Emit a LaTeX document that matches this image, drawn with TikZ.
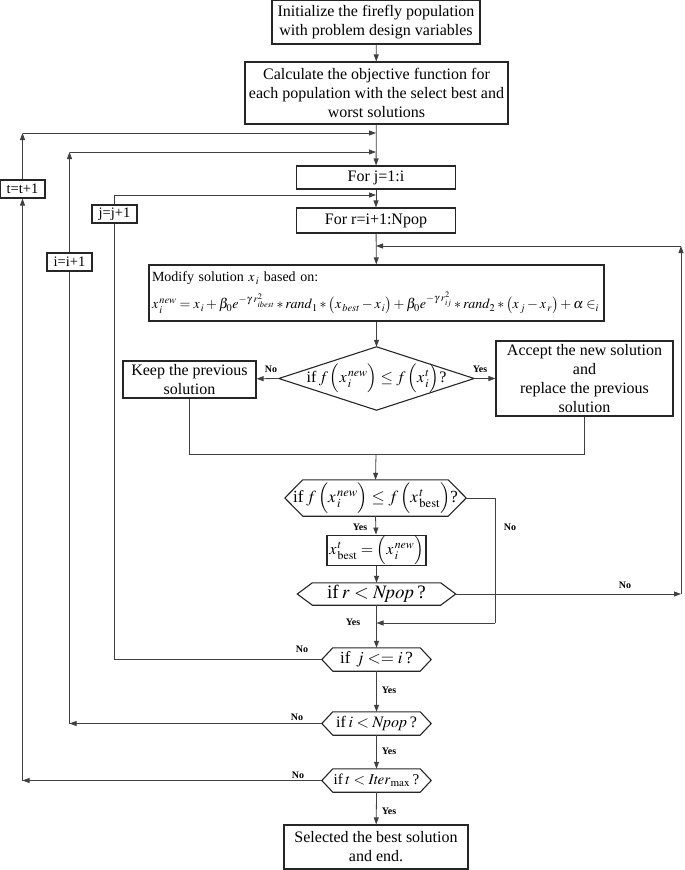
\documentclass[tikz,border=0pt]{standalone}
\usepackage{mathptmx}
\usepackage{fontspec}
\setmainfont{Liberation Serif}
\usetikzlibrary{arrows.meta}
\newcommand{\hexoutline}[2]{\draw[hexl] (#1.west) -- ([xshift=#2]#1.north west) -- ([xshift=-#2]#1.north east) -- (#1.east) -- ([xshift=-#2]#1.south east) -- ([xshift=#2]#1.south west) -- cycle;}
\newcommand{\lowsub}[1]{\lower2pt\hbox{$\scriptscriptstyle #1$}}
\begin{document}
\begin{tikzpicture}[x=1pt,y=-1pt,
  line/.style={draw=black!75, line width=0.8pt},
  arr/.style={line, -{Triangle[length=7pt,width=5pt]}},
  box/.style={draw=black!85, line width=1.1pt, inner sep=1pt, align=center, font=\fontsize{16}{19}\selectfont},
  small/.style={box, font=\fontsize{14.5}{16}\selectfont},
  ghost/.style={inner sep=0pt, align=center, font=\fontsize{16}{19}\selectfont},
  hexl/.style={draw=black!85, line width=1.1pt},
  lab/.style={font=\bfseries\fontsize{10}{12}\selectfont, inner sep=0pt}]
\useasboundingbox (0,0) rectangle (685,870);
% main column
\node[box, minimum width=208pt, minimum height=44pt] (b1) at (376,22) {Initialize the firefly population\\with problem design variables};
\node[box, minimum width=263pt, minimum height=62pt] (b2) at (376.5,93) {Calculate the objective function for\\each population with the select best and\\worst solutions};
\node[box, minimum width=159pt, minimum height=23pt] (fj) at (376,177.5) {For j=1:i};
\node[box, minimum width=159pt, minimum height=25pt] (fr) at (376,220.5) {For r=i+1:Npop};
\node[box, minimum width=455pt, minimum height=56pt, text width=449pt, align=left, font=\fontsize{14}{27}\selectfont] (mod) at (376.5,293) {Modify solution $x_{\,i}$ based on:\\
$x_{\,i}^{\,\mathit{new}}=x_{\,i}+\beta_0e^{-\gamma\mkern3mu r^{2}_{\lowsub{\mathit{ibest}}}}*\mathit{rand}_1*\bigl(x_{\,\mathit{best}}-x_{\,i}\bigr)+\beta_0e^{-\gamma\mkern3mu r^{2}_{\lowsub{ij}}}*\mathit{rand}_2*\bigl(x_{\,j}-x_{\,r}\bigr)+\alpha\in_i$};
\node[ghost, minimum width=195pt, minimum height=63pt] (dia) at (376.5,378.5) {if\,$f\,\Bigl(x_{\,i}^{\,\mathit{new}}\Bigr)\le f\,\Bigl(x_{\,i}^{\,t}\Bigr)$?};
\draw[hexl] (dia.west) -- (dia.north) -- (dia.east) -- (dia.south) -- cycle;
\node[box, minimum width=133pt, minimum height=37pt] (keep) at (189.5,379.5) {Keep the previous\\solution};
\node[box, minimum width=177pt, minimum height=75pt] (acc) at (584.5,378.5) {Accept the new solution\\and\\replace the previous\\solution};
\coordinate (keepd) at (189.5,454);
\coordinate (accd) at (584.5,454);
\coordinate (merge) at (376,454);
\node[ghost, minimum width=181pt, minimum height=36pt, font=\fontsize{17}{19}\selectfont] (h1) at (375.5,498) {if\,$f\,\Bigl(x_{\,i}^{\,\mathit{new}}\Bigr)\le f\,\Bigl(x^{\,t}_{\,\mathrm{best}}\Bigr)$?};
\hexoutline{h1}{18}
\node[box, minimum width=99pt, minimum height=27pt, font=\fontsize{16}{19}\selectfont] (xb) at (376.5,550.5) {$x^{\,t}_{\,\mathrm{best}}=\Bigl(x_{\,i}^{\,\mathit{new}}\Bigr)$};
\node[ghost, minimum width=158pt, minimum height=22pt, font=\fontsize{19}{21}\selectfont] (h2) at (376.5,594) {if\,$r<\mathit{Npop}$\,?};
\hexoutline{h2}{15}
\node[ghost, minimum width=109pt, minimum height=23pt, font=\fontsize{17}{19}\selectfont] (h3) at (376.5,659.5) {if\,\,$j<=i$\,?};
\hexoutline{h3}{11}
\node[ghost, minimum width=109pt, minimum height=23pt, font=\fontsize{16}{19}\selectfont] (h4) at (376.5,723.5) {if\,$i<\mathit{Npop}$\,?};
\hexoutline{h4}{11}
\node[ghost, minimum width=109pt, minimum height=23pt, font=\fontsize{15}{19}\selectfont] (h5) at (376.5,780.5) {if\,$t<\mathit{Iter}_{\max}$\,?};
\hexoutline{h5}{11}
\node[box, minimum width=184pt, minimum height=44pt] (fin) at (376,847) {Selected the best solution\\and end.};
% loop boxes
\node[small, minimum width=45pt, minimum height=18pt] (tb) at (22.5,189) {t=t+1};
\node[small, minimum width=45pt, minimum height=18pt] (ib) at (69.5,262) {i=i+1};
\node[small, minimum width=45pt, minimum height=18pt] (jb) at (114.5,214) {j=j+1};
\coordinate (tt) at (376,133);
\coordinate (it) at (376,152);
\coordinate (jt) at (376,195);
\coordinate (rt) at (376,246);
\coordinate (tL) at (22.5,780.5);
\coordinate (tU) at (22.5,133);
\coordinate (iL) at (69.5,723.5);
\coordinate (iU) at (69.5,152);
\coordinate (jL) at (114.5,659.5);
\coordinate (jU) at (114.5,195);
\coordinate (rR) at (681,594);
\coordinate (rU) at (681,246);
\coordinate (nR) at (495,498);
\coordinate (nD) at (495,623);
\coordinate (nL) at (376.5,623);
% main arrows
\draw[arr] (b1) -- (b2);
\draw[arr] (b2) -- (fj);
\draw[arr] (fj) -- (fr);
\draw[arr] (fr) -- (mod);
\draw[arr] (mod) -- (dia.north);
\draw[arr] (dia.west) -- (keep);
\draw[arr] (dia.east) -- (acc);
\draw[line] (keep) -- (keepd) -- (accd) -- (acc);
\draw[arr] (merge) -- (h1.north);
\draw[arr] (h1.south) -- (xb);
\draw[arr] (xb) -- (h2.north);
\draw[arr] (h2.south) -- (h3.north);
\draw[arr] (h3.south) -- (h4.north);
\draw[arr] (h4.south) -- (h5.north);
\draw[arr] (h5.south) -- (fin);
% h1 no branch
\draw[line] (h1.east) -- (nR) -- (nD);
\draw[arr] (nD) -- (nL);
% r loop
\draw[arr] (h2.east) -- (rR);
\draw[arr] (rR) -- (rU);
\draw[arr] (rU) -- (rt);
% j loop
\draw[line] (h3.west) -- (jL) -- (jb);
\draw[line] (jb) -- (jU);
\draw[arr] (jU) -- (jt);
% i loop
\draw[arr] (h4.west) -- (iL);
\draw[line] (iL) -- (ib);
\draw[arr] (ib) -- (iU);
\draw[arr] (iU) -- (it);
% t loop
\draw[arr] (h5.west) -- (tL);
\draw[arr] (tL) -- (tb);
\draw[arr] (tb) -- (tU);
\draw[arr] (tU) -- (tt);
% labels
\node[lab] (l1) at (271,369) {No};
\node[lab] (l2) at (480,369) {Yes};
\node[lab] (l3) at (360,527) {Yes};
\node[lab] (l4) at (510,527) {No};
\node[lab] (l5) at (625,585) {No};
\node[lab] (l6) at (353,622) {Yes};
\node[lab] (l7) at (302,649) {No};
\node[lab] (l8) at (389,690) {Yes};
\node[lab] (l9) at (297,717) {No};
\node[lab] (l10) at (389,751) {Yes};
\node[lab] (l11) at (298,775) {No};
\node[lab] (l12) at (389,811) {Yes};
\end{tikzpicture}
\end{document}
